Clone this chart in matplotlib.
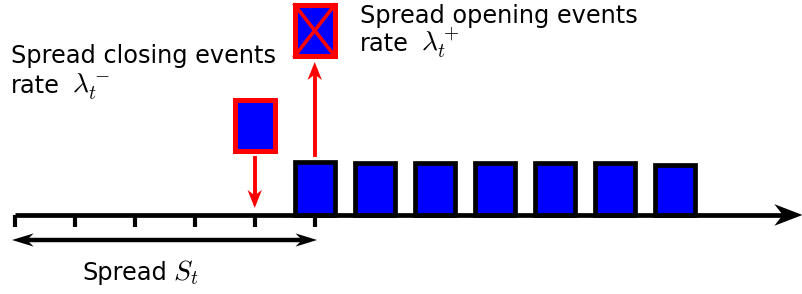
import matplotlib.pyplot as plt
from matplotlib.patches import Polygon

plt.rcParams['mathtext.fontset'] = 'cm'

# price levels on the axis (one tick per level)
tick_levels = [0, 1, 2, 3, 4, 5]
# ask queue: level and queue size of each standing order
queue_levels = [5, 6, 7, 8, 9, 10, 11]
queue_sizes = [0.88, 0.86, 0.86, 0.86, 0.86, 0.86, 0.84]
# incoming order (closes spread) and cancelled order (opens spread)
closing_level = 4
opening_level = 5
event_size = 0.85
spread_width = 5

BLUE = '#0000ff'
RED = '#ff0000'


def head(ax, x, y, dx, dy, length, width, color):
    # concave arrow head, tip at (x, y), pointing along (dx, dy)
    px, py = -dy, dx
    bx, by = x - dx * length, y - dy * length
    nx, ny = x - dx * length * 0.7, y - dy * length * 0.7
    pts = [[x, y], [bx + px * width, by + py * width], [nx, ny], [bx - px * width, by - py * width]]
    ax.add_patch(Polygon(pts, closed=True, color=color, lw=0, zorder=4))


fig = plt.figure(figsize=(8.03, 2.94), dpi=100)
ax = fig.add_axes([0, 0, 1, 1])
ax.set_xlim(-0.245, 13.138)
ax.set_ylim(-1.317, 3.583)
ax.axis('off')

# price axis with arrow head
x_end = 13.13
ax.plot([0, x_end - 0.3], [0, 0], color='black', lw=3.4, solid_capstyle='butt', zorder=3)
head(ax, x_end, 0, 1, 0, 0.47, 0.18, 'black')
for t in tick_levels:
    ax.plot([t, t], [0, -0.2], color='black', lw=3, solid_capstyle='butt', zorder=3)

# standing orders
ax.bar(queue_levels, queue_sizes, width=0.667, bottom=0, color=BLUE,
       edgecolor='black', linewidth=3.4, zorder=2)

# spread closing event
ax.bar([closing_level], [event_size], width=0.667, bottom=1.067, color=BLUE,
       edgecolor=RED, linewidth=3.6, zorder=2)
ax.plot([closing_level, closing_level], [0.95, 0.3], color=RED, lw=2.8, zorder=3)
head(ax, closing_level, 0.117, 0, -1, 0.3, 0.12, RED)

# spread opening event (cancelled order)
b = 2.65
hw = 0.667 / 2
ax.bar([opening_level], [event_size], width=0.667, bottom=b, color=BLUE,
       edgecolor=RED, linewidth=3.6, zorder=2)
ax.plot([opening_level - hw, opening_level + hw], [b, b + event_size], color=RED, lw=2.6, zorder=3)
ax.plot([opening_level - hw, opening_level + hw], [b + event_size, b], color=RED, lw=2.6, zorder=3)
ax.plot([opening_level, opening_level], [1.0, 2.4], color=RED, lw=2.8, zorder=3)
head(ax, opening_level, 2.55, 0, 1, 0.3, 0.12, RED)

# spread
sy = -0.417
ax.plot([0.15, spread_width - 0.1], [sy, sy], color='black', lw=3.2, solid_capstyle='butt', zorder=3)
head(ax, -0.045, sy, -1, 0, 0.36, 0.11, 'black')
head(ax, spread_width + 0.04, sy, 1, 0, 0.36, 0.11, 'black')
ax.text(1.12, -1.083, 'Spread', fontsize=17.3, va='baseline', ha='left')
ax.text(2.64, -1.083, '$S_t$', fontsize=20, va='baseline', ha='left')

ax.text(-0.062, 2.533, 'Spread closing events', fontsize=17.3, va='baseline', ha='left')
ax.text(-0.062, 2.033, 'rate', fontsize=17.3, va='baseline', ha='left')
ax.text(0.955, 2.033, '$\\lambda_t^-$', fontsize=20, va='baseline', ha='left')
ax.text(5.75, 3.2, 'Spread opening events', fontsize=17.3, va='baseline', ha='left')
ax.text(5.75, 2.733, 'rate', fontsize=17.3, va='baseline', ha='left')
ax.text(6.77, 2.733, '$\\lambda_t^+$', fontsize=20, va='baseline', ha='left')

fig.savefig('out.png', dpi=100)
